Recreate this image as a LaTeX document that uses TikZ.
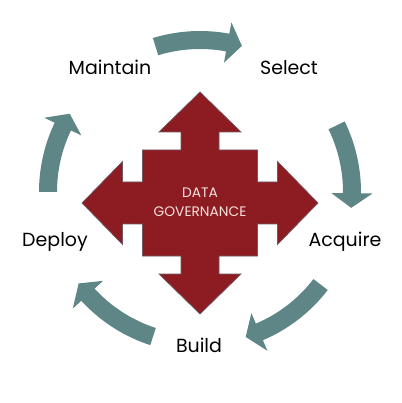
\documentclass[tikz,border=0pt]{standalone}
\usepackage{fontspec}
\setmainfont{Poppins}
\usetikzlibrary{positioning}

\definecolor{govred}{RGB}{140,28,34}
\definecolor{govedge}{RGB}{112,88,100}
\definecolor{cycteal}{RGB}{94,134,134}
\definecolor{govtext}{RGB}{246,226,220}

\newcommand{\turnarrow}[2]{%
  \pgfmathsetmacro{\headbase}{#2+5.5}%
  \fill[cycle arrow] (#1:161) arc[start angle=#1, end angle=\headbase, radius=161]
    -- (\headbase:172.5) -- (#2:152) -- (\headbase:131.5) -- (\headbase:143)
    arc[start angle=\headbase, end angle=#1, radius=143] -- cycle;}

\begin{document}
\begin{tikzpicture}[scale=0.025,
    cycle arrow/.style={fill=cycteal},
    stage/.style={font=\fontsize{13.5}{16}\selectfont, text=black, inner sep=0pt},
    govshape/.style={fill=govred, draw=govedge, line width=0.5pt}]
    \useasboundingbox (-200,-211) rectangle (202,192);
    \begin{scope}[shift={(0,-11)}]
    \filldraw[govshape] (0,111) -- (41,71) -- (19,71) -- (19,53) -- (57.5,53) -- (57.5,21)
      -- (77.5,21) -- (77.5,41.5) -- (118,0) -- (77.5,-41.5) -- (77.5,-21) -- (57.5,-21)
      -- (57.5,-53) -- (19,-53) -- (19,-71) -- (41,-71) -- (0,-111) -- (-41,-71)
      -- (-19,-71) -- (-19,-53) -- (-57.5,-53) -- (-57.5,-21) -- (-77.5,-21) -- (-77.5,-41.5)
      -- (-118,0) -- (-77.5,41.5) -- (-77.5,21) -- (-57.5,21) -- (-57.5,53) -- (-19,53)
      -- (-19,71) -- (-41,71) -- cycle;
    \end{scope}
    \node[text=govtext, align=center, font=\fontsize{9.8}{13.5}\selectfont] (gov) at (0,-10.5) {DATA\\GOVERNANCE};
    \turnarrow{107}{74}
    \turnarrow{26}{-6}
    \turnarrow{-37.5}{-72.5}
    \turnarrow{-108}{-143}
    \turnarrow{180}{149}
    \node[stage, anchor=base] (maintain) at (-90,117) {Maintain};
    \node[stage, anchor=base] (select) at (89,117) {Select};
    \node[stage, anchor=base] (acquire) at (145,-55) {Acquire};
    \node[stage, anchor=base] (deploy) at (-145,-55) {Deploy};
    \node[stage, anchor=base] (build) at (-1,-160) {Build};
\end{tikzpicture}
\end{document}
